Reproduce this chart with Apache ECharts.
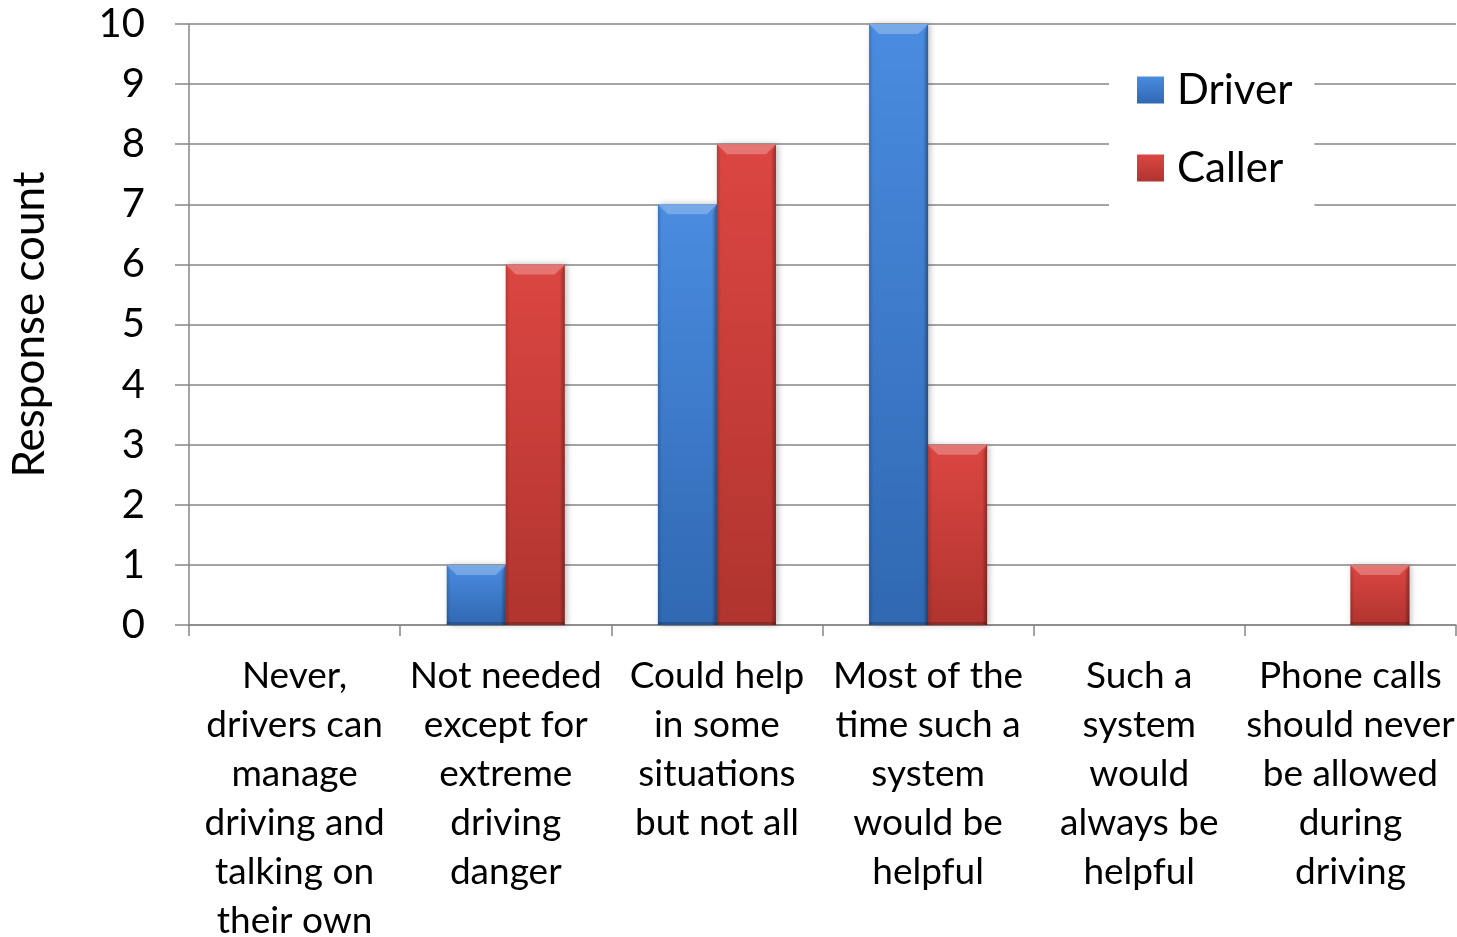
<!DOCTYPE html>
<html>
<head>
<meta charset="utf-8">
<script src="https://cdn.jsdelivr.net/npm/echarts@6/dist/echarts.min.js"></script>
<style>
  html, body { margin: 0; padding: 0; background: #fff; overflow: hidden; }
  #chart { width: 1457px; height: 937px; }
</style>
</head>
<body>
<div id="chart"></div>
<script>
// Survey answers: how useful would a driving-aware call system be?
const categories = [
  'Never,\ndrivers can\nmanage\ndriving and\ntalking on\ntheir own',
  'Not needed\nexcept for\nextreme\ndriving\ndanger',
  'Could help\nin some\nsituations\nbut not all',
  'Most of the\ntime such a\nsystem\nwould be\nhelpful',
  'Such a\nsystem\nwould\nalways be\nhelpful',
  'Phone calls\nshould never\nbe allowed\nduring\ndriving'
];
const driverCounts = [0, 1, 7, 10, 0, 0];
const callerCounts = [0, 6, 8, 3, 0, 1];
const yTicks = { min: 0, max: 10, interval: 1 };

const FONT = 'Lato, "Open Sans", sans-serif';
const BAR_W = 59;

function barFill(top, bottom) {
  return {
    type: 'linear', x: 0, y: 0, x2: 0, y2: 1,
    colorStops: [
      { offset: 0, color: top },
      { offset: 1, color: bottom }
    ]
  };
}

// Bevelled edges drawn over each bar: light top facet, shaded sides and base.
function bevelRenderer(side) {
  return function (params, api) {
    const v = api.value(1);
    if (!v) return null;
    const top = api.coord([api.value(0), v]);
    const base = api.coord([api.value(0), 0]);
    const cx = top[0] + side * BAR_W / 2;
    const x0 = cx - BAR_W / 2, x1 = cx + BAR_W / 2;
    const y0 = top[1], y1 = base[1];
    const b = Math.min(10, (y1 - y0) / 2);
    const s = 5;
    return {
      type: 'group',
      silent: true,
      children: [
        { type: 'polygon', shape: { points: [[x0, y0], [x1, y0], [x1 - b, y0 + b], [x0 + b, y0 + b]] },
          style: { fill: 'rgba(255,255,255,0.26)' } },
        { type: 'polygon', shape: { points: [[x0, y0], [x0 + s - 1, y0 + b], [x0 + s - 1, y1], [x0, y1]] },
          style: { fill: { type: 'linear', x: 0, y: 0, x2: 1, y2: 0,
            colorStops: [{ offset: 0, color: 'rgba(0,0,0,0.18)' }, { offset: 1, color: 'rgba(0,0,0,0)' }] } } },
        { type: 'polygon', shape: { points: [[x1, y0], [x1 - s, y0 + b], [x1 - s, y1], [x1, y1]] },
          style: { fill: { type: 'linear', x: 0, y: 0, x2: 1, y2: 0,
            colorStops: [{ offset: 0, color: 'rgba(0,0,0,0)' }, { offset: 1, color: 'rgba(0,0,0,0.35)' }] } } },
        { type: 'rect', shape: { x: x0, y: y1 - 3, width: BAR_W, height: 3 },
          style: { fill: 'rgba(0,0,0,0.18)' } }
      ]
    };
  };
}

const chart = echarts.init(document.getElementById('chart'), null, { renderer: 'canvas' });
chart.setOption({
  animation: false,
  backgroundColor: '#ffffff',
  grid: { left: 189, right: 1, top: 24, bottom: 312, containLabel: false, outerBoundsMode: 'none' },
  legend: {
    orient: 'vertical',
    left: 1109,
    top: 53,
    backgroundColor: '#ffffff',
    padding: [15, 22, 20, 28],
    itemGap: 34,
    itemWidth: 27,
    itemHeight: 27,
    icon: 'rect',
    textStyle: { fontFamily: FONT, fontSize: 42, lineHeight: 44, color: '#000', padding: [0, 0, 0, 8] },
    data: ['Driver', 'Caller']
  },
  xAxis: {
    type: 'category',
    data: categories,
    axisLine: { lineStyle: { color: '#868686', width: 1.5 } },
    axisTick: { show: true, length: 11, lineStyle: { color: '#868686', width: 1.5 } },
    axisLabel: {
      interval: 0,
      margin: 27,
      fontFamily: FONT,
      fontSize: 37,
      lineHeight: 49,
      color: '#000',
      align: 'center'
    },
    splitLine: { show: false }
  },
  yAxis: {
    type: 'value',
    min: yTicks.min,
    max: yTicks.max,
    interval: yTicks.interval,
    name: 'Response count',
    nameLocation: 'middle',
    nameGap: 137,
    nameRotate: 90,
    nameTextStyle: { fontFamily: FONT, fontSize: 44, color: '#000' },
    axisLine: { show: true, lineStyle: { color: '#868686', width: 1.5 } },
    axisTick: { show: true, length: 14, lineStyle: { color: '#868686', width: 1.5 } },
    axisLabel: { fontFamily: FONT, fontSize: 40, color: '#000', margin: 44 },
    splitLine: { show: true, lineStyle: { color: '#868686', width: 1.5 } }
  },
  series: [
    {
      name: 'Driver',
      type: 'bar',
      data: driverCounts,
      barWidth: BAR_W,
      barGap: '0%',
      itemStyle: {
        color: barFill('#4a8ce0', '#3068b2'),
        shadowColor: 'rgba(0,0,0,0.25)', shadowBlur: 6, shadowOffsetX: 2
      }
    },
    {
      name: 'Caller',
      type: 'bar',
      data: callerCounts,
      barWidth: BAR_W,
      barGap: '0%',
      itemStyle: {
        color: barFill('#dc4642', '#b0342f'),
        shadowColor: 'rgba(0,0,0,0.25)', shadowBlur: 6, shadowOffsetX: 2
      }
    },
    {
      name: 'Driver bevel',
      type: 'custom',
      data: driverCounts.map((v, i) => [i, v]),
      renderItem: bevelRenderer(-1),
      z: 3
    },
    {
      name: 'Caller bevel',
      type: 'custom',
      data: callerCounts.map((v, i) => [i, v]),
      renderItem: bevelRenderer(1),
      z: 3
    }
  ]
});
</script>
</body>
</html>
